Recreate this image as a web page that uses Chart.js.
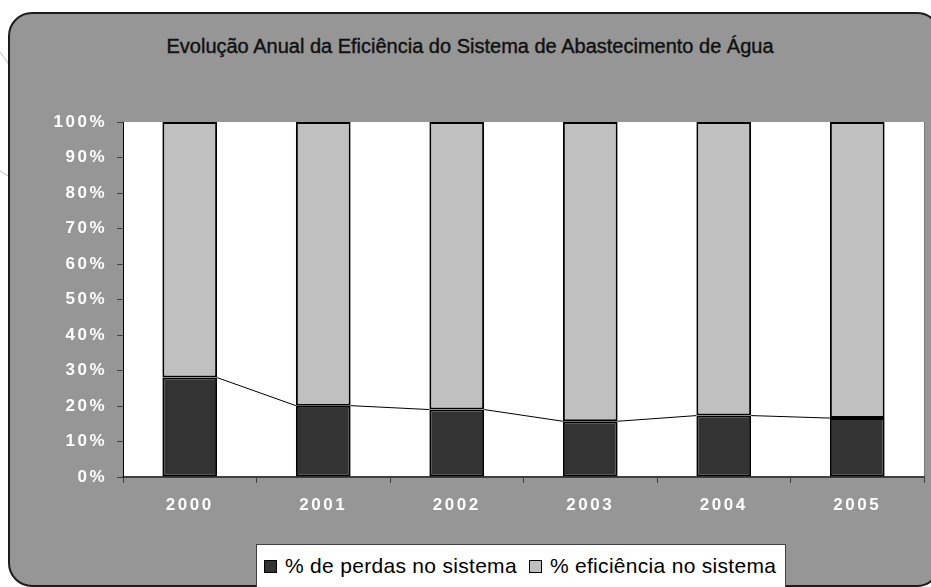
<!DOCTYPE html>
<html lang="pt">
<head>
  <meta charset="UTF-8">
  <title>Evolução Anual da Eficiência do Sistema de Abastecimento de Água</title>
  <script src="https://cdn.jsdelivr.net/npm/chart.js"></script>
  <style>
    html, body { margin: 0; padding: 0; background: #fff; overflow: hidden; }
    body { width: 931px; height: 587px; position: relative; font-family: "Liberation Sans", Arial, sans-serif; }
    #deco { position: absolute; left: 0; top: 0; }
    #frame {
      position: absolute; left: 8px; top: 12px; width: 933px; height: 575px;
      box-sizing: border-box; background: #969696;
      border: 2px solid #1c1c1c; border-radius: 24px;
    }
    #wrap { position: absolute; left: 0; top: 0; width: 931px; height: 587px; }
    #title {
      position: absolute; left: 0; width: 940px; top: 34px;
      text-align: center; font-size: 20px; color: #111; line-height: 24px;
      -webkit-text-stroke: 0.4px #111;
    }
    #legend {
      position: absolute; left: 256px; top: 544px; width: 530px; height: 44px;
      box-sizing: border-box; background: #fff; border: 1px solid #404040;
      display: flex; align-items: center; padding-left: 7px;
      font-size: 21px; color: #000; white-space: nowrap; letter-spacing: 0.3px;
    }
    .sw { display: inline-block; width: 11px; height: 11px; border: 1px solid #000; margin-right: 8px; }
    .item { display: flex; align-items: center; margin-right: 12px; }
  </style>
</head>
<body>

<!-- faint slide lines behind the left edge of the chart box -->
<svg id="deco" width="20" height="200">
  <line x1="0" y1="52" x2="10" y2="66" stroke="#bdbdbd" stroke-width="1"/>
  <line x1="0" y1="171" x2="10" y2="177" stroke="#bdbdbd" stroke-width="1"/>
</svg>
<div id="frame"></div>
<div id="title">Evolução Anual da Eficiência do Sistema de Abastecimento de Água</div>
<div id="wrap"><canvas id="chart"></canvas></div>
<div id="legend">
  <span class="item"><span class="sw" style="background:#333333"></span>% de perdas no sistema</span>
  <span class="item"><span class="sw" style="background:#c0c0c0"></span>% eficiência no sistema</span>
</div>

<script>
// data
const years = ['2000', '2001', '2002', '2003', '2004', '2005'];
const perdas = [28.0, 20.1, 19.0, 15.7, 17.3, 16.6];
const eficiencia = [72.0, 79.9, 81.0, 84.3, 82.7, 83.4];
const yTicks = [0, 10, 20, 30, 40, 50, 60, 70, 80, 90, 100];

// white plot area (also sets the wide letter spacing of the axis labels,
// canvas resizes wipe the ctx state so it has to be done here)
const plotBg = {
  id: 'plotBg',
  beforeDraw(chart) {
    const a = chart.chartArea, ctx = chart.ctx;
    ctx.letterSpacing = '2.5px';
    ctx.save();
    ctx.fillStyle = '#fff';
    ctx.fillRect(a.left, a.top, a.right - a.left, a.bottom - a.top);
    ctx.strokeStyle = '#7a7a7a';
    ctx.lineWidth = 1;
    ctx.beginPath();
    ctx.moveTo(a.right + 0.5, a.top);
    ctx.lineTo(a.right + 0.5, a.bottom);
    ctx.stroke();
    ctx.restore();
  }
};

// excel style series lines between the tops of the first series
const seriesLines = {
  id: 'seriesLines',
  afterDatasetsDraw(chart) {
    const bars = chart.getDatasetMeta(0).data, ctx = chart.ctx;
    ctx.save();
    ctx.strokeStyle = '#000';
    ctx.lineWidth = 1;
    ctx.beginPath();
    for (let i = 0; i < bars.length - 1; i++) {
      const a = bars[i], b = bars[i + 1];
      ctx.moveTo(a.x + a.width / 2, a.y);
      ctx.lineTo(b.x - b.width / 2, b.y);
    }
    ctx.stroke();
    ctx.restore();
  }
};

const tickFont = { family: '"Liberation Sans", Arial, sans-serif', size: 17, weight: 'bold' };

new Chart(document.getElementById('chart'), {
  type: 'bar',
  data: {
    labels: years,
    datasets: [
      { label: '% de perdas no sistema', data: perdas, backgroundColor: '#333333',
        borderColor: '#000', borderWidth: 2, borderSkipped: false },
      { label: '% eficiência no sistema', data: eficiencia, backgroundColor: '#c0c0c0',
        borderColor: '#000', borderWidth: 2, borderSkipped: false }
    ]
  },
  options: {
    responsive: true,
    maintainAspectRatio: false,
    animation: false,
    events: [],
    datasets: { bar: { barPercentage: 0.41, categoryPercentage: 1 } },
    layout: { padding: { top: 122, right: 7, bottom: 0, left: 0 } },
    plugins: { legend: { display: false }, title: { display: false }, tooltip: { enabled: false } },
    scales: {
      x: {
        stacked: true,
        afterFit(s) { s.height = 110; },
        grid: { drawOnChartArea: false, drawTicks: true, tickLength: 6, color: '#404040', offset: true },
        border: { display: true, color: '#404040', width: 2 },
        ticks: { color: '#fff', font: tickFont, padding: 12 }
      },
      y: {
        stacked: true,
        min: 0, max: 100,
        afterFit(s) { s.width = 123; },
        afterBuildTicks(s) { s.ticks = yTicks.map(v => ({ value: v })); },
        grid: { drawOnChartArea: false, drawTicks: true, tickLength: 6, color: '#404040' },
        border: { display: true, color: '#000', width: 1 },
        ticks: { color: '#fff', font: tickFont, padding: 10, callback: v => v + '%' }
      }
    }
  },
  plugins: [plotBg, seriesLines]
});
</script>
</body>
</html>
